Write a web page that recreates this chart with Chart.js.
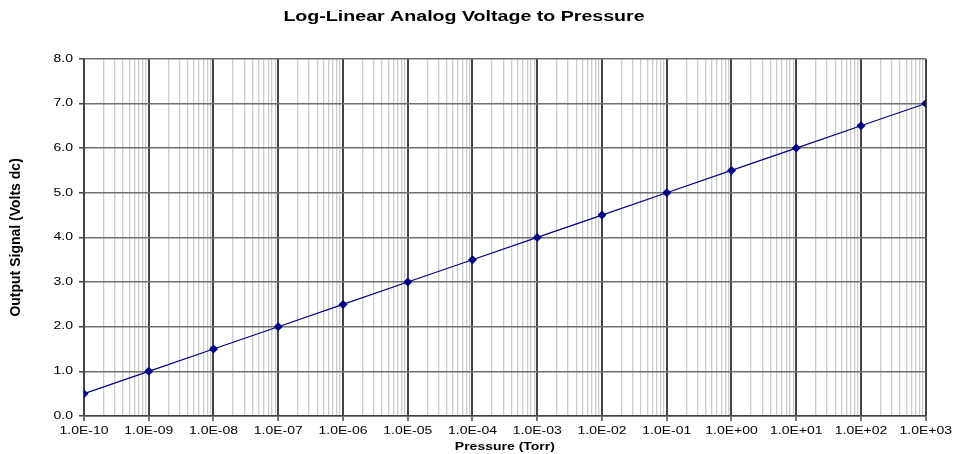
<!DOCTYPE html>
<html>
<head>
<meta charset="utf-8">
<script src="https://cdn.jsdelivr.net/npm/chart.js@4/dist/chart.umd.min.js"></script>
<style>
  body { margin: 0; background: #fff; }
  #box { width: 956px; height: 454px; }
</style>
</head>
<body>
<div id="box"><canvas id="vChart"></canvas></div>
<script>
// data: pressure (Torr) vs output voltage
const pressure = [1e-10, 1e-9, 1e-8, 1e-7, 1e-6, 1e-5, 1e-4, 1e-3, 1e-2, 1e-1, 1e0, 1e1, 1e2, 1e3];
const voltage = [0.5, 1.0, 1.5, 2.0, 2.5, 3.0, 3.5, 4.0, 4.5, 5.0, 5.5, 6.0, 6.5, 7.0];

const exponents = [-10, -9, -8, -7, -6, -5, -4, -3, -2, -1, 0, 1, 2, 3];
const xTickLabels = ['1.0E-10', '1.0E-09', '1.0E-08', '1.0E-07', '1.0E-06', '1.0E-05', '1.0E-04',
                     '1.0E-03', '1.0E-02', '1.0E-01', '1.0E+00', '1.0E+01', '1.0E+02', '1.0E+03'];
const yTickLabels = ['0.0', '1.0', '2.0', '3.0', '4.0', '5.0', '6.0', '7.0', '8.0'];

// gridline values 1..9 x 10^e in every decade
const xGridValues = [];
exponents.forEach((e, i) => {
    const top = i === exponents.length - 1 ? 1 : 9;
    for (let k = 1; k <= top; k++) xGridValues.push(Number(k + 'e' + e));
});

function isDecade(v) {
    const l = Math.log10(v);
    return Math.abs(l - Math.round(l)) < 1e-9;
}
const major = c => c.tick && isDecade(c.tick.value);

// the old chart's text is stretched sideways
const STRETCH = 1.4;
const stretchText = {
    id: 'stretchText',
    beforeInit(chart) {
        const ctx = chart.ctx;
        const fill = ctx.fillText.bind(ctx);
        const measure = ctx.measureText.bind(ctx);
        const flat = () => Math.abs(ctx.getTransform().b) < 1e-6;
        ctx.fillText = (text, x, y, maxWidth) => {
            if (!flat()) {
                if (maxWidth === undefined) fill(text, x, y); else fill(text, x, y, maxWidth);
                return;
            }
            ctx.save();
            ctx.translate(x, y);
            ctx.scale(STRETCH, 1);
            if (maxWidth === undefined) fill(text, 0, 0); else fill(text, 0, 0, maxWidth / STRETCH);
            ctx.restore();
        };
        ctx.measureText = text => {
            const m = measure(text);
            if (!flat()) return m;
            return {
                width: m.width * STRETCH,
                actualBoundingBoxAscent: m.actualBoundingBoxAscent,
                actualBoundingBoxDescent: m.actualBoundingBoxDescent
            };
        };
    }
};

Chart.defaults.font.family = '"Liberation Sans", Arial, sans-serif';
Chart.defaults.color = '#000';

const ctx = document.getElementById('vChart').getContext('2d');
new Chart(ctx, {
    type: 'line',
    data: {
        datasets: [{
            data: pressure.map((p, i) => ({ x: p, y: voltage[i] })),
            borderColor: '#000080',
            backgroundColor: '#000080',
            borderWidth: 1.2,
            pointStyle: 'rectRot',
            pointRadius: 4.5,
            pointBorderWidth: 0,
            tension: 0
        }]
    },
    options: {
        responsive: true,
        maintainAspectRatio: false,
        animation: false,
        layout: { padding: { left: 0, right: 28, top: 0, bottom: 0 } },
        plugins: {
            legend: { display: false },
            tooltip: { enabled: false },
            title: {
                display: true,
                text: 'Log-Linear Analog Voltage to Pressure',
                font: { size: 14, weight: 'bold' },
                color: '#000',
                padding: { top: 9, bottom: 33 }
            }
        },
        scales: {
            x: {
                type: 'logarithmic',
                min: 1e-10,
                max: 1e3,
                z: -1,
                afterBuildTicks: scale => { scale.ticks = xGridValues.map(v => ({ value: v })); },
                afterFit: scale => { scale.height = 38; },
                ticks: {
                    autoSkip: false,
                    maxRotation: 0,
                    padding: 4,
                    font: { size: 10 },
                    callback: v => isDecade(v) ? xTickLabels[exponents.indexOf(Math.round(Math.log10(v)))] : ''
                },
                grid: {
                    color: c => major(c) ? '#444444' : '#cccccc',
                    lineWidth: c => major(c) ? 2 : 1.3,
                    tickColor: c => major(c) ? '#444444' : 'rgba(0,0,0,0)',
                    tickLength: 5,
                    tickWidth: 1.5
                },
                border: { color: '#444444', width: 1.5 },
                title: {
                    display: true,
                    text: 'Pressure (Torr)',
                    font: { size: 10, weight: 'bold' },
                    padding: { top: 0, bottom: 1 }
                }
            },
            y: {
                min: 0,
                max: 8,
                afterFit: scale => { scale.width = 84; },
                ticks: {
                    stepSize: 1,
                    padding: 6,
                    font: { size: 10 },
                    callback: (v, i) => yTickLabels[i]
                },
                grid: {
                    color: '#707070',
                    lineWidth: 1.5,
                    tickColor: '#444444',
                    tickLength: 5
                },
                border: { color: '#444444', width: 1.5 },
                title: {
                    display: true,
                    text: 'Output Signal (Volts dc)',
                    font: { size: 14, weight: 'bold' },
                    padding: { top: 8, bottom: 0 }
                }
            }
        }
    },
    plugins: [stretchText]
});
</script>
</body>
</html>
